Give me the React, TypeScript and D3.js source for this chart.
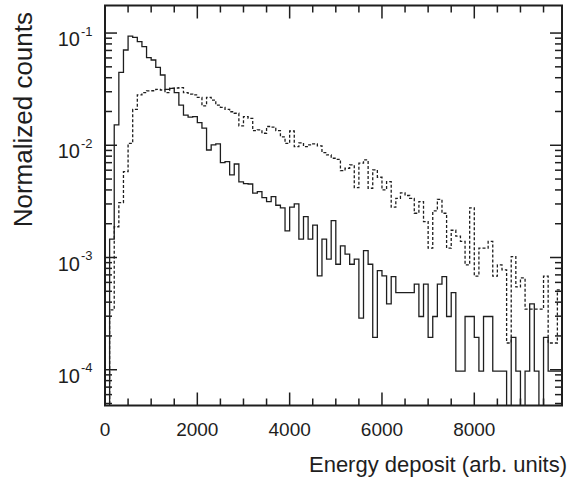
import React from "react";
import * as d3 from "d3";

// ---- Data (normalized counts per 100-unit bin, 0..9900) ----
const binWidth = 100;
const solidCounts: number[] = [
  0, 1.46e-3, 1.52e-2, 4.47e-2, 7.06e-2, 9.40e-2, 9.16e-2, 8.38e-2, 7.56e-2, 6.03e-2,
  5.75e-2, 4.95e-2, 4.23e-2, 3.15e-2, 3.22e-2, 2.94e-2, 2.28e-2, 1.86e-2, 1.78e-2, 1.80e-2,
  1.59e-2, 1.42e-2, 9.08e-3, 1.01e-2, 1.03e-2, 7.00e-3, 7.15e-3, 5.44e-3, 6.81e-3, 4.71e-3,
  4.55e-3, 4.52e-3, 3.74e-3, 3.86e-3, 3.41e-3, 3.15e-3, 3.48e-3, 2.92e-3, 2.77e-3, 1.73e-3,
  2.81e-3, 3.00e-3, 1.46e-3, 2.31e-3, 1.46e-3, 1.94e-3, 6.86e-4, 1.46e-3, 9.66e-4, 2.13e-3,
  8.71e-4, 1.27e-3, 1.07e-3, 8.71e-4, 9.66e-4, 2.88e-4, 1.15e-3, 8.71e-4, 1.94e-4, 7.64e-4,
  6.86e-4, 3.86e-4, 6.76e-4, 4.86e-4, 4.86e-4, 4.86e-4, 4.86e-4, 5.78e-4, 2.98e-4, 5.78e-4,
  1.94e-4, 2.98e-4, 5.78e-4, 6.76e-4, 2.98e-4, 4.86e-4, 0.97e-4, 0.97e-4, 2.98e-4, 2.98e-4,
  1.94e-4, 0.97e-4, 2.98e-4, 2.98e-4, 0.97e-4, 0.97e-4, 0.97e-4, 0, 1.94e-4, 0.97e-4,
  0, 0.97e-4, 3.86e-4, 0.97e-4, 0, 1.94e-4, 0.97e-4, 0.97e-4, 0.97e-4,
];
const dashedCounts: number[] = [
  0, 3.41e-4, 1.88e-3, 3.08e-3, 5.82e-3, 1.04e-2, 2.09e-2, 2.81e-2, 2.94e-2, 3.05e-2,
  3.06e-2, 3.15e-2, 3.11e-2, 2.94e-2, 3.22e-2, 3.24e-2, 3.26e-2, 2.94e-2, 2.86e-2, 2.81e-2,
  2.67e-2, 2.24e-2, 2.67e-2, 2.53e-2, 2.28e-2, 2.18e-2, 2.09e-2, 1.99e-2, 1.93e-2, 1.49e-2,
  1.80e-2, 1.74e-2, 1.35e-2, 1.37e-2, 1.28e-2, 1.47e-2, 1.45e-2, 1.35e-2, 1.19e-2, 1.04e-2,
  1.34e-2, 9.73e-3, 1.05e-2, 9.73e-3, 1.01e-2, 1.03e-2, 9.87e-3, 8.60e-3, 8.20e-3, 7.66e-3,
  7.50e-3, 5.94e-3, 6.24e-3, 6.68e-3, 4.19e-3, 6.92e-3, 7.40e-3, 4.14e-3, 6.03e-3, 5.19e-3,
  4.00e-3, 4.74e-3, 2.81e-3, 3.37e-3, 3.76e-3, 3.57e-3, 3.37e-3, 2.48e-3, 3.15e-3, 2.09e-3,
  1.21e-3, 2.60e-3, 3.29e-3, 2.48e-3, 1.21e-3, 1.75e-3, 1.55e-3, 1.39e-3, 8.59e-4, 2.77e-3,
  6.82e-4, 1.21e-3, 1.21e-3, 1.39e-3, 6.82e-4, 8.59e-4, 7.76e-4, 1.73e-4, 1.02e-3, 5.47e-4,
  6.58e-4, 3.47e-4, 3.47e-4, 3.47e-4, 3.47e-4, 6.82e-4, 1.73e-4, 1.73e-4, 5.14e-4,
];
const xMajorTicks = [0, 2000, 4000, 6000, 8000];
const xTickLabels = ["0", "2000", "4000", "6000", "8000"];
const yDecades = [1e-1, 1e-2, 1e-3, 1e-4];
const yExpLabels = ["-1", "-2", "-3", "-4"];
const xTitle = "Energy deposit (arb. units)";
const yTitle = "Normalized counts";

const W = 572;
const H = 477;
const left = 105, right = 562, top = 5.5, bottom = 405.5;
const xMax = 9900;
const yMin = 4.8e-5, yMaxV = 0.176;
const FONT = "'Liberation Sans', Arial, sans-serif";
const INK = "#1e1e1e";

export default function App() {
  const x = d3.scaleLinear().domain([0, xMax]).range([left, right]);
  const y = d3.scaleLog().domain([yMin, yMaxV]).range([bottom, top]);

  const histPath = (vals: number[]) => {
    const p = d3.path();
    p.moveTo(x(0), bottom);
    vals.forEach((v, i) => {
      const yy = v > 0 ? y(Math.max(v, yMin * 0.5)) : bottom + 2;
      p.lineTo(x(i * binWidth), yy);
      p.lineTo(x((i + 1) * binWidth), yy);
    });
    p.lineTo(x(vals.length * binWidth), bottom);
    return p.toString();
  };

  const xMinor = d3.range(0, xMax + 1, 500).filter((t) => !xMajorTicks.includes(t));
  const yMinor: number[] = [];
  for (let e = -5; e <= 0; e++) {
    for (let m = 2; m <= 9; m++) {
      const v = m * Math.pow(10, e);
      if (v > yMin && v < yMaxV) yMinor.push(v);
    }
  }

  const majX = 13, minX = 7, majY = 12, minY = 7;

  return (
    <svg width={W} height={H} style={{ display: "block", position: "absolute", left: 0, top: 0 }}>
      <rect width={W} height={H} fill="#fff" />
      <defs>
        <clipPath id="plot">
          <rect x={left} y={top} width={right - left} height={bottom - top} />
        </clipPath>
      </defs>
      <g clipPath="url(#plot)" fill="none" stroke={INK} strokeWidth={1.3}>
        <path d={histPath(dashedCounts)} strokeDasharray="3 2" />
        <path d={histPath(solidCounts)} />
      </g>
      {/* ticks */}
      <g stroke={INK} strokeWidth={1.5}>
        {xMajorTicks.map((t) => (
          <g key={"xm" + t}>
            <line x1={x(t)} x2={x(t)} y1={bottom} y2={bottom - majX} />
            <line x1={x(t)} x2={x(t)} y1={top} y2={top + majX} />
          </g>
        ))}
        {xMinor.map((t) => (
          <g key={"xn" + t}>
            <line x1={x(t)} x2={x(t)} y1={bottom} y2={bottom - minX} />
            <line x1={x(t)} x2={x(t)} y1={top} y2={top + minX} />
          </g>
        ))}
        {yDecades.map((t) => (
          <g key={"ym" + t}>
            <line x1={left} x2={left + majY} y1={y(t)} y2={y(t)} />
            <line x1={right} x2={right - majY} y1={y(t)} y2={y(t)} />
          </g>
        ))}
        {yMinor.map((t) => (
          <g key={"yn" + t}>
            <line x1={left} x2={left + minY} y1={y(t)} y2={y(t)} />
            <line x1={right} x2={right - minY} y1={y(t)} y2={y(t)} />
          </g>
        ))}
      </g>
      <rect x={left} y={top} width={right - left} height={bottom - top} fill="none" stroke={INK} strokeWidth={2} />
      {/* x tick labels */}
      <g fontFamily={FONT} fontSize={19} fill={INK} textAnchor="middle">
        {xMajorTicks.map((t, i) => (
          <text key={"xl" + t} x={x(t)} y={436}>{xTickLabels[i]}</text>
        ))}
      </g>
      {/* y tick labels */}
      <g fontFamily={FONT} fill={INK}>
        {yDecades.map((t, i) => (
          <g key={"yl" + t}>
            <text x={80} y={y(t) + 13} fontSize={20} textAnchor="end">10</text>
            <text x={81} y={y(t) + 2.5} fontSize={13} textAnchor="start">{yExpLabels[i]}</text>
          </g>
        ))}
      </g>
      <text x={567} y={472} fontFamily={FONT} fontSize={22} fill={INK} textAnchor="end">{xTitle}</text>
      <text transform="translate(32,12) rotate(-90)" fontFamily={FONT} fontSize={26} fill={INK} textAnchor="end">{yTitle}</text>
    </svg>
  );
}
